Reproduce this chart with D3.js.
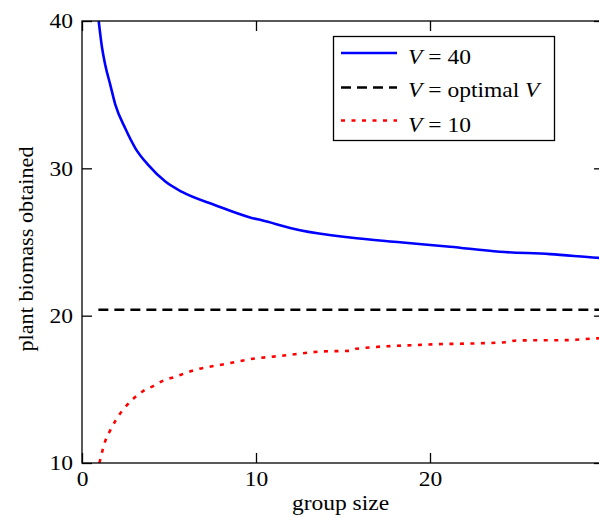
<!DOCTYPE html>
<html>
<head>
<meta charset="utf-8">
<script src="https://cdn.jsdelivr.net/npm/d3@7"></script>
<style>
  html, body { margin: 0; padding: 0; background: #fff; overflow: hidden; }
  svg, svg text { font-family: 'Liberation Serif', 'Times New Roman', Times, 'Nimbus Roman', 'DejaVu Serif', serif; }
  svg { display: block; }
</style>
</head>
<body>
<svg id="chart" width="599" height="517"></svg>
<script>
// ---- data ----
const xTicks = [0, 10, 20];
const yTicks = [10, 20, 30, 40];

const v40X = [0.96, 1.15, 1.34, 1.63, 1.92, 2.49, 3.07, 3.83, 4.79, 5.75, 7.66, 9.66, 10.34, 12.53, 15.4, 18.28, 21.15, 24.0, 26.9, 29.6, 30];
const v40Y = [40, 38.2, 37.0, 35.65, 34.3, 32.7, 31.36, 30.2, 29.1, 28.4, 27.5, 26.67, 26.47, 25.8, 25.3, 24.98, 24.68, 24.34, 24.18, 23.93, 23.9];

const optX = [0.94, 30];
const optY = [20.4, 20.4];

const v10X = [1.0, 1.34, 1.63, 1.97, 2.39, 2.87, 3.51, 4.12, 4.75, 5.36, 5.98, 6.57, 7.18, 8.43, 9.58, 11.49, 13.8, 15.5, 15.75, 19.43, 24.4, 24.98, 27.86, 29.58, 30];
const v10Y = [10, 11.5, 12.23, 12.96, 13.66, 14.27, 14.88, 15.24, 15.63, 15.85, 16.12, 16.35, 16.5, 16.76, 17.03, 17.28, 17.57, 17.62, 17.75, 18.02, 18.2, 18.32, 18.34, 18.46, 18.48];

const seriesNames = ["V = 40", "V = optimal V", "V = 10"];

// ---- layout ----
const svg = d3.select("#chart");
const mLeft = 82, mRight = 604, mTop = 21, mBottom = 463;
const x = d3.scaleLinear().domain([0, 30]).range([mLeft, mRight]);
const y = d3.scaleLinear().domain([10, 40]).range([mBottom, mTop]);
const fs = 21, sx = 1.12;

svg.append("defs").append("clipPath").attr("id", "plotclip")
  .append("rect").attr("x", mLeft).attr("y", mTop).attr("width", mRight - mLeft).attr("height", mBottom - mTop);

const line = d3.line().x(d => x(d[0])).y(d => y(d[1])).curve(d3.curveMonotoneX);
const zip = (a, b) => a.map((v, i) => [v, b[i]]);

const series = [
  { pts: zip(v40X, v40Y), color: "#0000ff", dash: null },
  { pts: zip(optX, optY), color: "#000000", dash: "10,6" },
  { pts: zip(v10X, v10Y), color: "#ff0000", dash: "4,6.5" }
];

const plot = svg.append("g").attr("clip-path", "url(#plotclip)");
series.forEach(s => {
  plot.append("path")
    .attr("d", line(s.pts))
    .attr("fill", "none")
    .attr("stroke", s.color)
    .attr("stroke-width", 2.6)
    .attr("stroke-dasharray", s.dash);
});

// stretch text horizontally around its anchor
function stretch(sel, k) {
  sel.each(function () {
    const t = d3.select(this);
    const tx = +t.attr("x") || 0, ty = +t.attr("y") || 0;
    const prev = t.attr("transform") || "";
    t.attr("x", 0).attr("y", 0).attr("transform", `${prev} translate(${tx},${ty}) scale(${k},1)`);
  });
}

// ---- axes ----
const axB = svg.append("g").attr("transform", `translate(0,${mBottom})`)
  .call(d3.axisBottom(x).tickValues(xTicks).tickSizeInner(-10).tickSizeOuter(0).tickPadding(8));
const axL = svg.append("g").attr("transform", `translate(${mLeft},0)`)
  .call(d3.axisLeft(y).tickValues(yTicks).tickSizeInner(-10).tickSizeOuter(0).tickPadding(9));
const axT = svg.append("g").attr("transform", `translate(0,${mTop})`)
  .call(d3.axisTop(x).tickValues(xTicks).tickSizeInner(-10).tickSizeOuter(0).tickFormat(""));
const axR = svg.append("g").attr("transform", `translate(${mRight},0)`)
  .call(d3.axisRight(y).tickValues(yTicks).tickSizeInner(-10).tickSizeOuter(0).tickFormat(""));

[axB, axL, axT, axR].forEach(a => {
  a.attr("font-family", null).attr("font-size", null);
  a.select(".domain").remove();
  a.selectAll("line").attr("stroke", "#000").attr("stroke-width", 1.3);
  a.selectAll("text").attr("font-size", fs).attr("fill", "#000");
});
stretch(axB.selectAll("text"), sx);
stretch(axL.selectAll("text"), sx);

// frame
svg.append("rect").attr("x", mLeft).attr("y", mTop).attr("width", mRight - mLeft).attr("height", mBottom - mTop)
  .attr("fill", "none").attr("stroke", "#000").attr("stroke-width", 1.3);

// axis titles
svg.append("text").attr("x", (mLeft + 599) / 2).attr("y", 510).attr("text-anchor", "middle")
  .attr("font-size", fs).attr("class", "st").text("group size");
const yTitle = svg.append("text").attr("transform", `translate(33,249) rotate(-90)`)
  .attr("text-anchor", "middle").attr("font-size", fs).text("plant biomass obtained");
stretch(yTitle, 1.06);

// ---- legend ----
const lg = svg.append("g");
lg.append("rect").attr("x", 333.5).attr("y", 36.5).attr("width", 221).attr("height", 104)
  .attr("fill", "#fff").attr("stroke", "#000").attr("stroke-width", 1.3);
const legY = [53, 87.5, 120.5];
const legBase = [64, 97, 131.5];
series.forEach((s, i) => {
  lg.append("line").attr("x1", 341).attr("x2", 397).attr("y1", legY[i]).attr("y2", legY[i])
    .attr("stroke", s.color).attr("stroke-width", 2.6).attr("stroke-dasharray", s.dash);
  const t = lg.append("text").attr("x", 408).attr("y", legBase[i]).attr("font-size", fs).attr("class", "st");
  const parts = seriesNames[i].split(/(V)/).filter(p => p !== "");
  parts.forEach(p => {
    t.append("tspan").attr("font-style", p === "V" ? "italic" : "normal").text(p);
  });
});
stretch(svg.selectAll("text.st"), sx);
</script>
</body>
</html>
